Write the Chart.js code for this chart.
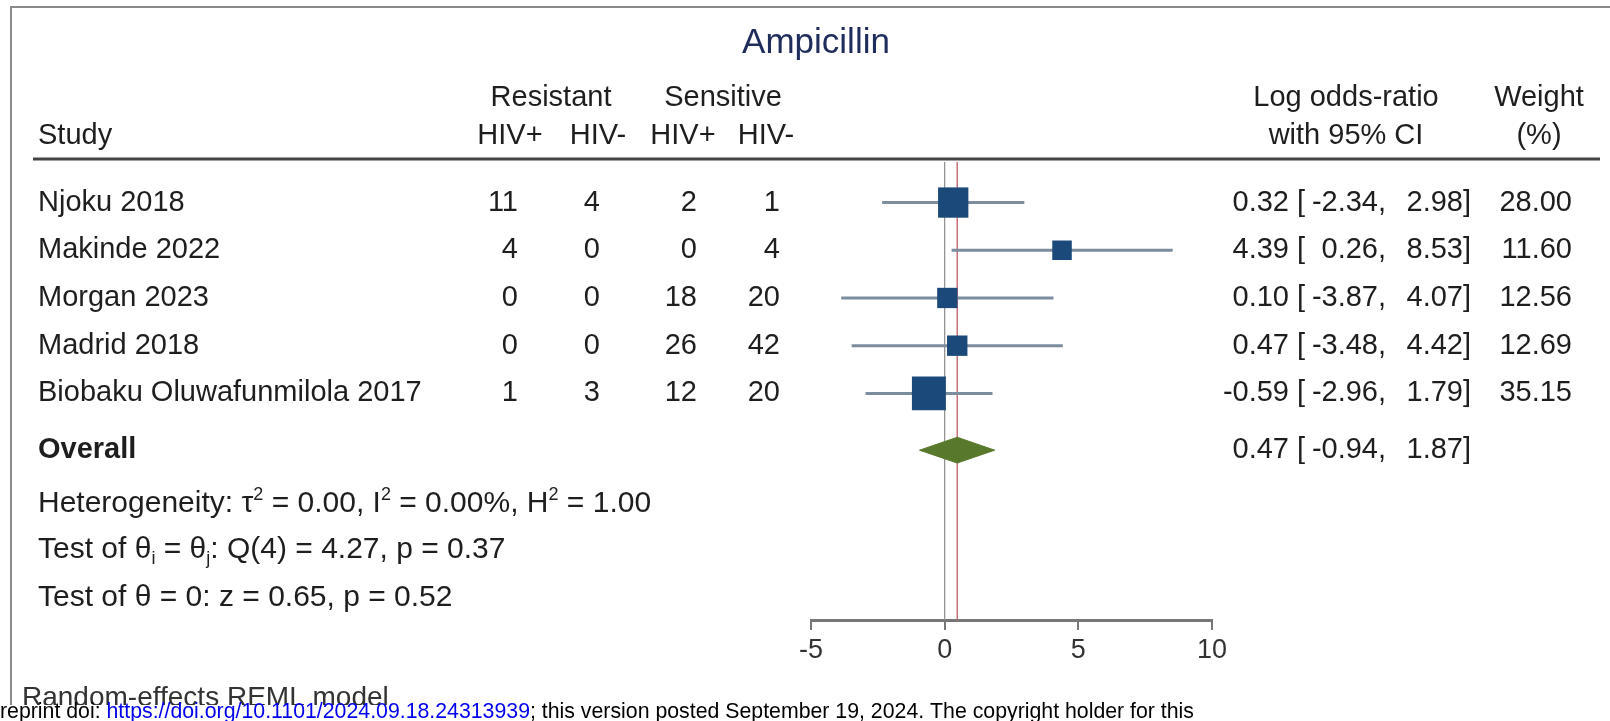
<!DOCTYPE html>
<html>
<head>
<meta charset="utf-8">
<script src="https://cdn.jsdelivr.net/npm/chart.js@4.4.1/dist/chart.umd.min.js"></script>
<style>
  html, body { margin: 0; padding: 0; background: #fff; }
  canvas { display: block; }
</style>
</head>
<body>
<canvas id="forest" width="1610" height="721"></canvas>
<script>
// study data
const studies = ['Njoku 2018', 'Makinde 2022', 'Morgan 2023', 'Madrid 2018', 'Biobaku Oluwafunmilola 2017'];
const resistantPos = [11, 4, 0, 0, 1];
const resistantNeg = [4, 0, 0, 0, 3];
const sensitivePos = [2, 0, 18, 26, 12];
const sensitiveNeg = [1, 4, 20, 42, 20];
const logOR = [0.32, 4.39, 0.10, 0.47, -0.59];
const ciLow = [-2.34, 0.26, -3.87, -3.48, -2.96];
const ciHigh = [2.98, 8.53, 4.07, 4.42, 1.79];
const weights = [28.00, 11.60, 12.56, 12.69, 35.15];
// overall: estimate, lower, upper
const overall = [0.47, -0.94, 1.87];
const xTicks = [-5, 0, 5, 10];

const FONT = '"Liberation Sans", Arial, Helvetica, sans-serif';
const TEXT = '#1e1e1e';
const OVERALL_ROW = 5.19;
const DIAMOND_H = 0.27;

function put(ctx, s, x, y, align, size, color, bold) {
  ctx.font = (bold ? 'bold ' : '') + size + 'px ' + FONT;
  ctx.fillStyle = color || TEXT;
  ctx.textAlign = align || 'left';
  ctx.textBaseline = 'middle';
  ctx.fillText(s, x, y);
  return ctx.measureText(s).width;
}

// segments: [text, 'sub'|'sup'|'']
function putRich(ctx, segs, x, y, size) {
  segs.forEach(([s, kind]) => {
    let sz = size, dy = 0;
    if (kind === 'sup') { sz = size * 0.6; dy = -size * 0.3; }
    if (kind === 'sub') { sz = size * 0.6; dy = size * 0.3; }
    x += put(ctx, s, x, y + dy, 'left', sz, TEXT);
  });
}

const fmt = v => v.toFixed(2);

const tablePlugin = {
  id: 'table',
  beforeDraw(chart) {
    const ctx = chart.ctx;
    ctx.save();
    ctx.fillStyle = '#fff';
    ctx.fillRect(0, 0, chart.width, chart.height);
    ctx.restore();
  },
  afterDraw(chart) {
    const ctx = chart.ctx;
    const y = chart.scales.y;
    ctx.save();

    // frame
    ctx.strokeStyle = '#8a8a8a';
    ctx.lineWidth = 2;
    ctx.beginPath();
    ctx.moveTo(11, 705); ctx.lineTo(11, 7); ctx.lineTo(1610, 7);
    ctx.stroke();

    put(ctx, 'Ampicillin', 816, 43, 'center', 35, '#1f2d5c');

    // headers
    const hs = 29;
    put(ctx, 'Resistant', 551, 98, 'center', hs);
    put(ctx, 'Sensitive', 723, 98, 'center', hs);
    put(ctx, 'Study', 38, 136, 'left', hs);
    put(ctx, 'HIV+', 510, 136, 'center', hs);
    put(ctx, 'HIV-', 598, 136, 'center', hs);
    put(ctx, 'HIV+', 683, 136, 'center', hs);
    put(ctx, 'HIV-', 766, 136, 'center', hs);
    put(ctx, 'Log odds-ratio', 1346, 98, 'center', hs);
    put(ctx, 'with 95% CI', 1346, 136, 'center', hs);
    put(ctx, 'Weight', 1539, 98, 'center', hs);
    put(ctx, '(%)', 1539, 136, 'center', hs);

    ctx.strokeStyle = '#444';
    ctx.lineWidth = 3;
    ctx.beginPath();
    ctx.moveTo(33, 159); ctx.lineTo(1600, 159);
    ctx.stroke();

    const ci = (est, lo, hi, py) => {
      put(ctx, fmt(est), 1289, py, 'right', hs);
      put(ctx, '[', 1297, py, 'left', hs);
      put(ctx, fmt(lo), 1378, py, 'right', hs);
      put(ctx, ',', 1378, py, 'left', hs);
      put(ctx, fmt(hi), 1463, py, 'right', hs);
      put(ctx, ']', 1463, py, 'left', hs);
    };

    studies.forEach((name, i) => {
      const py = y.getPixelForValue(i);
      put(ctx, name, 38, py, 'left', hs);
      put(ctx, String(resistantPos[i]), 518, py, 'right', hs);
      put(ctx, String(resistantNeg[i]), 600, py, 'right', hs);
      put(ctx, String(sensitivePos[i]), 697, py, 'right', hs);
      put(ctx, String(sensitiveNeg[i]), 780, py, 'right', hs);
      ci(logOR[i], ciLow[i], ciHigh[i], py);
      put(ctx, fmt(weights[i]), 1572, py, 'right', hs);
    });

    const po = y.getPixelForValue(OVERALL_ROW);
    put(ctx, 'Overall', 38, po, 'left', hs, TEXT, true);
    ci(overall[0], overall[1], overall[2], po);

    const ss = 30;
    putRich(ctx, [['Heterogeneity: \u03c4', ''], ['2', 'sup'], [' = 0.00, I', ''], ['2', 'sup'],
      [' = 0.00%, H', ''], ['2', 'sup'], [' = 1.00', '']], 38, 504, ss);
    putRich(ctx, [['Test of \u03b8', ''], ['i', 'sub'], [' = \u03b8', ''], ['j', 'sub'],
      [': Q(4) = 4.27, p = 0.37', '']], 38, 550, ss);
    putRich(ctx, [['Test of \u03b8 = 0: z = 0.65, p = 0.52', '']], 38, 598, ss);

    put(ctx, 'Random-effects REML model', 22, 698, 'left', 28, '#333');

    // preprint banner over the bottom
    ctx.fillStyle = '#fff';
    ctx.fillRect(0, 705, 1200, 16);
    const parts = [['reprint doi: ', '#000'], ['https://doi.org/10.1101/2024.09.18.24313939', '#0000ee'],
      ['; this version posted September 19, 2024. The copyright holder for this', '#000']];
    ctx.font = '22px ' + FONT;
    const full = ctx.measureText(parts.map(p => p[0]).join('')).width;
    ctx.translate(0, 712);
    ctx.scale(1194 / full, 1);
    ctx.textAlign = 'left';
    ctx.textBaseline = 'middle';
    let bx = 0;
    parts.forEach(([s, c]) => {
      ctx.fillStyle = c;
      ctx.fillText(s, bx, 0);
      bx += ctx.measureText(s).width;
    });

    ctx.restore();
  }
};

const Y_MIN = -0.85, Y_MAX = 8.75;

const datasets = [];
datasets.push({
  label: 'studies',
  data: studies.map((s, i) => ({ x: logOR[i], y: i })),
  pointStyle: 'rect',
  pointRadius: weights.map(w => 4.05 * Math.sqrt(w)),
  pointBackgroundColor: '#1b4a7a',
  pointBorderWidth: 0,
  showLine: false,
  order: 0
});
datasets.push({
  label: 'overall',
  data: [
    { x: overall[1], y: OVERALL_ROW },
    { x: overall[0], y: OVERALL_ROW - DIAMOND_H },
    { x: overall[2], y: OVERALL_ROW },
    { x: overall[0], y: OVERALL_ROW + DIAMOND_H },
    { x: overall[1], y: OVERALL_ROW }
  ],
  showLine: true,
  fill: 'shape',
  backgroundColor: '#58792b',
  borderColor: '#58792b',
  borderWidth: 1,
  pointRadius: 0,
  tension: 0,
  order: 0
});
studies.forEach((s, i) => {
  datasets.push({
    label: 'ci ' + s,
    data: [{ x: ciLow[i], y: i }, { x: ciHigh[i], y: i }],
    showLine: true,
    borderColor: '#7b8d9e',
    borderWidth: 3,
    pointRadius: 0,
    order: 1
  });
});
datasets.push({
  label: 'no effect',
  data: [{ x: 0, y: Y_MIN }, { x: 0, y: Y_MAX }],
  showLine: true, borderColor: '#8c8c8c', borderWidth: 1.2, pointRadius: 0, order: 2
});
datasets.push({
  label: 'overall effect',
  data: [{ x: overall[0], y: Y_MIN }, { x: overall[0], y: Y_MAX }],
  showLine: true, borderColor: '#c9707a', borderWidth: 1.5, pointRadius: 0, order: 2
});

new Chart(document.getElementById('forest'), {
  type: 'scatter',
  data: { datasets },
  options: {
    responsive: false,
    animation: false,
    events: [],
    layout: { padding: { left: 811, right: 398, top: 162, bottom: 41 } },
    plugins: { legend: { display: false }, tooltip: { enabled: false } },
    scales: {
      x: {
        type: 'linear',
        min: -5, max: 10,
        afterBuildTicks: s => { s.ticks = xTicks.map(v => ({ value: v })); },
        afterFit: s => { s.height = 60; },
        grid: { display: true, drawOnChartArea: false, drawTicks: true, tickLength: 10, color: '#777', lineWidth: 2 },
        border: { display: true, color: '#777', width: 3 },
        ticks: { color: '#333', padding: 4, font: { family: FONT, size: 27 } }
      },
      y: {
        type: 'linear',
        reverse: true,
        min: Y_MIN, max: Y_MAX,
        display: false
      }
    }
  },
  plugins: [tablePlugin]
});
</script>
</body>
</html>
